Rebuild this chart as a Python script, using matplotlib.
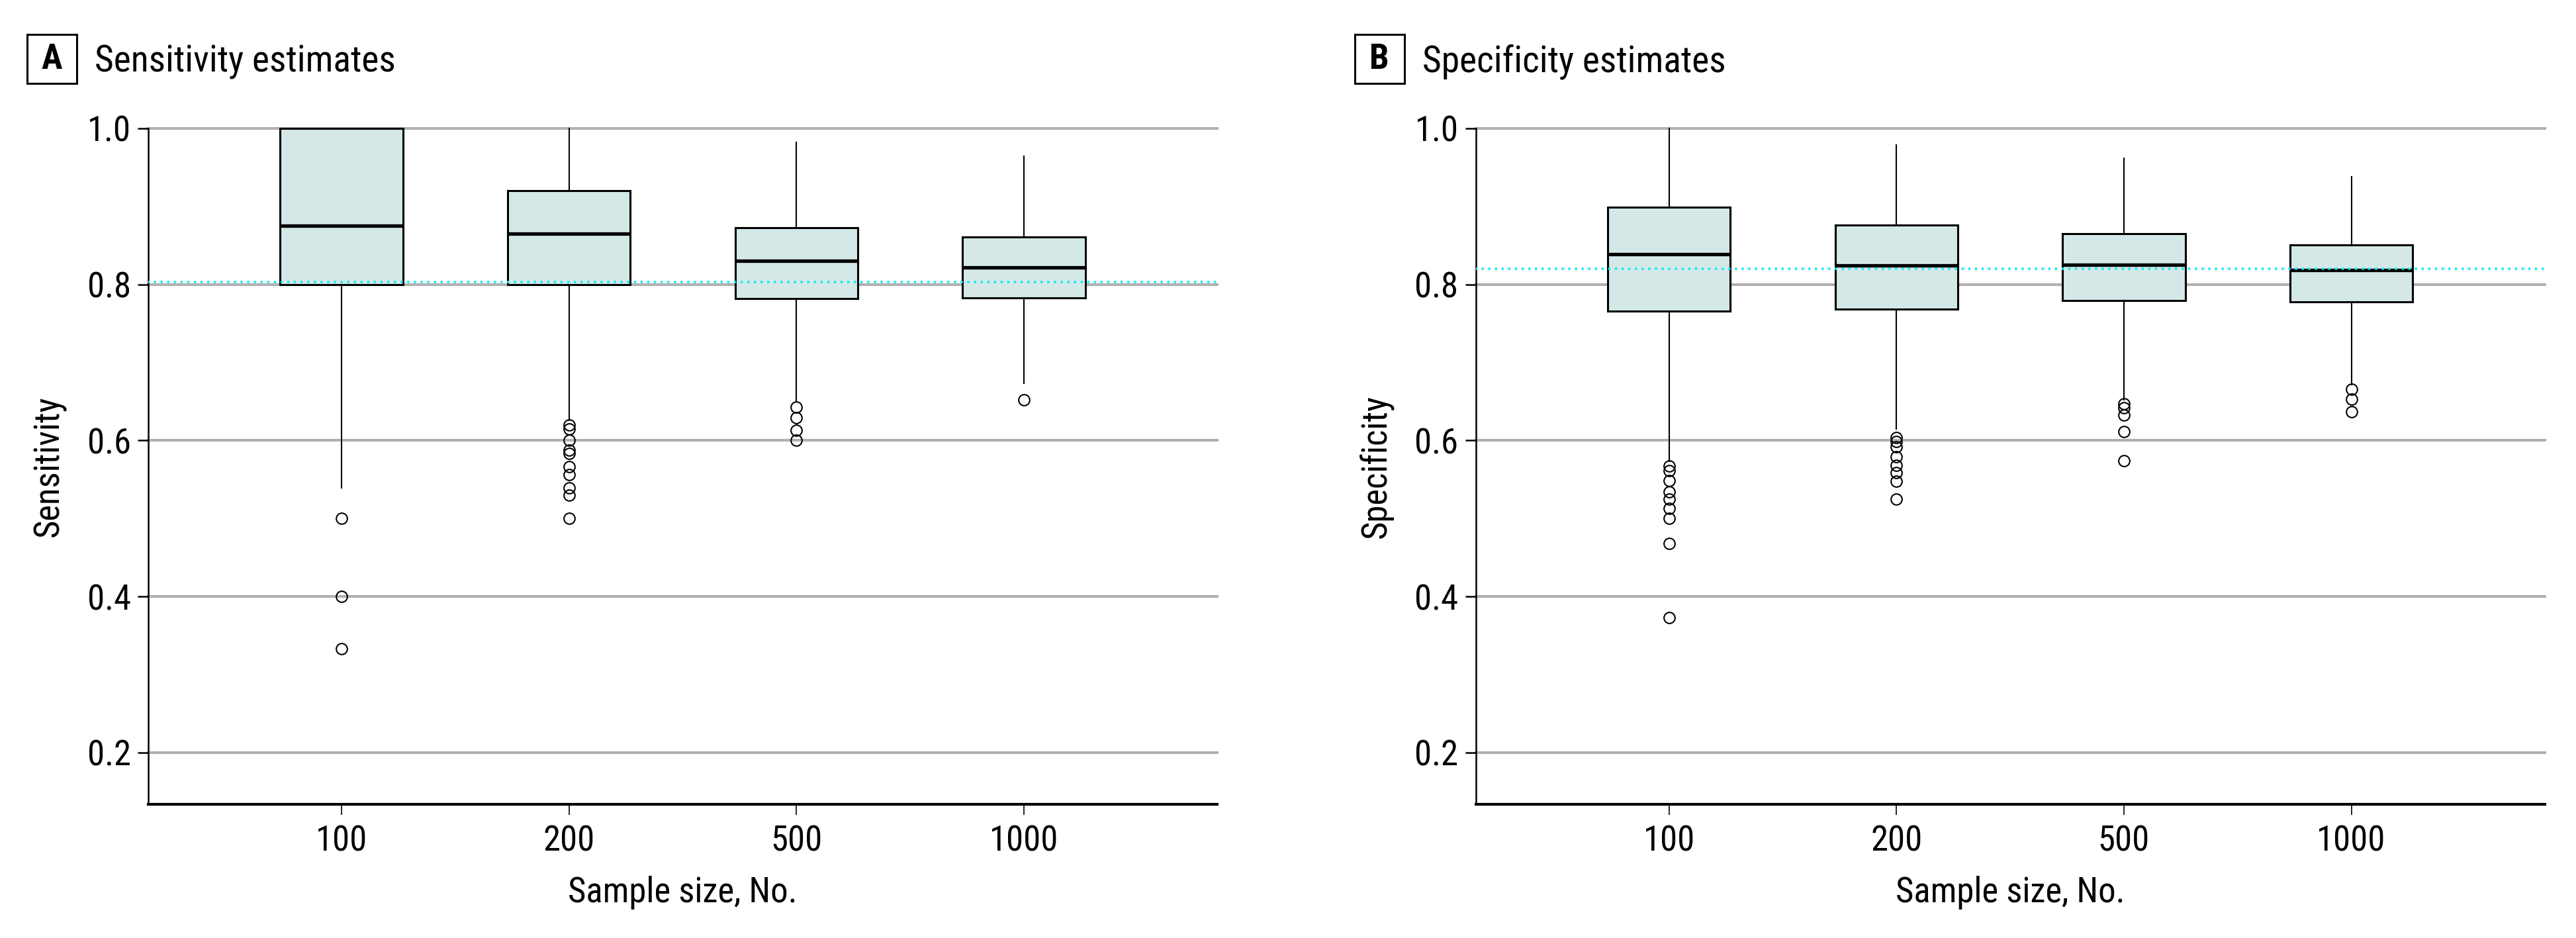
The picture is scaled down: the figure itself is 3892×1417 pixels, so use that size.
import matplotlib
matplotlib.use('Agg')
import matplotlib.pyplot as plt
from matplotlib import font_manager as fm
from matplotlib.patches import Rectangle

# ---- choose a condensed font if one is installed ----
entries = fm.fontManager.ttflist
names = {f.name for f in entries}
FONT, STRETCH = 'DejaVu Sans', 'normal'
for cand in ['Roboto Condensed', 'Open Sans Condensed', 'Noto Sans Condensed',
             'Liberation Sans Narrow', 'DejaVu Sans Condensed']:
    if cand in names:
        FONT = cand
        break
else:
    for fam in ['Roboto', 'Open Sans', 'Noto Sans', 'DejaVu Sans']:
        if any(f.name == fam and str(f.stretch) in ('condensed', 'semi-condensed', '75', '87')
               for f in entries):
            FONT, STRETCH = fam, 'condensed'
            break
plt.rcParams['font.family'] = [FONT, 'DejaVu Sans']
plt.rcParams['font.stretch'] = STRETCH

# ---------------- data ----------------
categories = ['100', '200', '500', '1000']

sens_q1 = [0.800, 0.800, 0.782, 0.783]
sens_med = [0.875, 0.865, 0.830, 0.822]
sens_q3 = [1.000, 0.920, 0.873, 0.861]
sens_whislo = [0.539, 0.626, 0.650, 0.673]
sens_whishi = [1.000, 1.000, 0.982, 0.964]
sens_fliers = [
    [0.500, 0.400, 0.333],
    [0.620, 0.615, 0.600, 0.588, 0.583, 0.566, 0.556, 0.539, 0.530, 0.500],
    [0.643, 0.629, 0.613, 0.600],
    [0.652],
]
sens_ref = 0.803

spec_q1 = [0.766, 0.768, 0.779, 0.778]
spec_med = [0.839, 0.824, 0.825, 0.818]
spec_q3 = [0.899, 0.876, 0.865, 0.851]
spec_whislo = [0.573, 0.615, 0.652, 0.672]
spec_whishi = [1.000, 0.979, 0.962, 0.938]
spec_fliers = [
    [0.567, 0.561, 0.549, 0.534, 0.525, 0.513, 0.500, 0.468, 0.373],
    [0.604, 0.599, 0.592, 0.579, 0.568, 0.559, 0.548, 0.525],
    [0.647, 0.642, 0.633, 0.611, 0.574],
    [0.666, 0.653, 0.637],
]
spec_ref = 0.820

yticks = [0.2, 0.4, 0.6, 0.8, 1.0]

panels = [
    ('A', 'Sensitivity estimates', 'Sensitivity',
     sens_q1, sens_med, sens_q3, sens_whislo, sens_whishi, sens_fliers, sens_ref),
    ('B', 'Specificity estimates', 'Specificity',
     spec_q1, spec_med, spec_q3, spec_whislo, spec_whishi, spec_fliers, spec_ref),
]

# ---------------- figure ----------------
W, H = 3892, 1417
DPI = 200
fig = plt.figure(figsize=(W / DPI, H / DPI), dpi=DPI)

ax_lefts = [224, 2229.6]
ax_w = 1615
ax_top, ax_bot = 194, 1214.6
margin = 0.85

for (letter, title, ylabel, q1, med, q3, wlo, whi, fl, ref), L in zip(panels, ax_lefts):
    ax = fig.add_axes([L / W, 1 - ax_bot / H, ax_w / W, (ax_bot - ax_top) / H])
    stats = []
    for i, c in enumerate(categories):
        stats.append(dict(label=c, q1=q1[i], med=med[i], q3=q3[i],
                          whislo=wlo[i], whishi=whi[i], fliers=fl[i]))
    positions = list(range(1, len(categories) + 1))
    ax.bxp(stats, positions=positions, widths=0.54, patch_artist=True,
           showcaps=False,
           boxprops=dict(facecolor='#d4e8e8', edgecolor='black', linewidth=1.1),
           medianprops=dict(color='black', linewidth=1.9),
           whiskerprops=dict(color='black', linewidth=0.75),
           flierprops=dict(marker='o', markerfacecolor='none', markeredgecolor='black',
                           markersize=6.0, markeredgewidth=0.75),
           manage_ticks=False)
    for art in ax.patches + ax.lines:
        art.set_clip_on(False)
    ax.axhline(ref, color='#12ecf2', linestyle=(0, (0.001, 2.5)), linewidth=1.45,
               dash_capstyle='round', zorder=6)

    ax.set_xlim(1 - margin, len(categories) + margin)
    ax.set_ylim(0.134, 1.0)
    ax.set_xticks(positions)
    ax.set_xticklabels(categories)
    ax.set_yticks(yticks)
    ax.set_yticklabels([f'{v:.1f}' for v in yticks])
    ax.yaxis.grid(True, color='#b0b0b0', linewidth=1.45)
    for gl in ax.get_ygridlines():
        gl.set_clip_on(False)
    ax.set_axisbelow(True)

    for s in ['top', 'right']:
        ax.spines[s].set_visible(False)
    ax.spines['left'].set_linewidth(0.9)
    ax.spines['bottom'].set_linewidth(1.5)
    ax.tick_params(axis='x', length=5.8, width=0.6, pad=5.5, labelsize=19)
    ax.tick_params(axis='y', length=5.8, width=0.9, pad=3.6, labelsize=19)

    ax.set_ylabel(ylabel, fontsize=19)
    ax.yaxis.set_label_coords((74 - 224) / ax_w, 0.5)
    ax.yaxis.label.set_va('center')
    ax.set_xlabel('Sample size, No.', fontsize=19)
    ax.xaxis.set_label_coords(0.5, (ax_bot - 1348) / (ax_bot - ax_top))
    ax.xaxis.label.set_va('center')

    # panel letter box and title
    bx = L - 183
    fig.patches.append(Rectangle((bx / W, 1 - 126 / H), 75 / W, 74 / H,
                                 transform=fig.transFigure, fill=False,
                                 edgecolor='black', linewidth=1.1))
    fig.text((bx + 37.5) / W, 1 - 89 / H, letter, ha='center', va='center',
             fontsize=19, fontweight='bold')
    fig.text((bx + 102) / W, 1 - 108 / H, title, ha='left', va='baseline',
             fontsize=20)

fig.savefig('out.png', dpi=DPI, facecolor='white')
